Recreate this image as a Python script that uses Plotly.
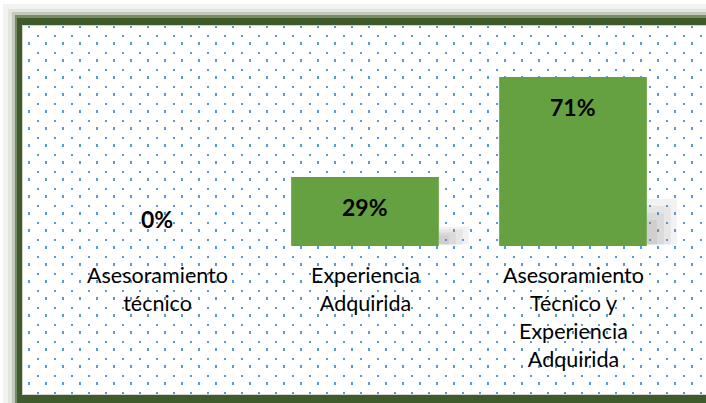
import base64
import plotly.graph_objects as go

# ---- data ----
categories = ["Asesoramiento técnico", "Experiencia Adquirida", "Asesoramiento Técnico y Experiencia Adquirida"]
tick_labels = ["Asesoramiento<br>técnico", "Experiencia<br>Adquirida", "Asesoramiento<br>Técnico y<br>Experiencia<br>Adquirida"]
values = [0, 29, 71]
value_labels = ["0%", "29%", "71%"]

W, H = 706, 403
FONT = "Lato"
BAR_W = 0.71
k = 2.38  # px per percent

def px(x):
    return x / W

def py(y):
    return 1 - y / H

fig = go.Figure()
fig.add_trace(go.Bar(
    x=categories, y=values,
    marker=dict(color="#66a141", line=dict(width=0)),
    width=BAR_W, hoverinfo="skip",
))

annotations = []
for cat, v, lab in zip(categories, values, value_labels):
    annotations.append(dict(
        x=cat, y=v, xref="x", yref="y", text="<b>%s</b>" % lab, showarrow=False,
        font=dict(family=FONT, size=23, color="#000000"),
        xanchor="center", yanchor="middle", yshift=(-30 if v > 0 else 27),
    ))
for cat, lab in zip(categories, tick_labels):
    annotations.append(dict(
        x=cat, y=0, xref="x", yref="y", text=lab, showarrow=False,
        font=dict(family=FONT, size=21.5, color="#000000"),
        xanchor="center", yanchor="top", yshift=-14, align="center",
    ))

# dotted background texture (decoration)
iw, ih = 684, 370
svg = (
    '<svg xmlns="http://www.w3.org/2000/svg" width="%d" height="%d" viewBox="0 0 %d %d">'
    '<defs><pattern id="p" x="4" y="4" width="17" height="17" patternUnits="userSpaceOnUse">'
    '<rect x="11.3" y="5.7" width="2" height="2.6" fill="#5b9bd5" shape-rendering="crispEdges"/>'
    '<rect x="2" y="13" width="2" height="2.6" fill="#5b9bd5" shape-rendering="crispEdges"/>'
    '</pattern></defs><rect width="100%%" height="100%%" fill="#ffffff"/>'
    '<rect width="100%%" height="100%%" fill="url(#p)"/></svg>'
) % (iw, ih, iw, ih)
src = "data:image/svg+xml;base64," + base64.b64encode(svg.encode()).decode()

images = [dict(source=src, xref="paper", yref="paper", x=px(22), y=py(25),
               sizex=iw / W, sizey=ih / H, xanchor="left", yanchor="top",
               sizing="stretch", layer="below")]

shapes = []
def hline(y, w, color, x0=0, x1=W + 10):
    shapes.append(dict(type="line", xref="paper", yref="paper", x0=px(x0), x1=px(x1),
                       y0=py(y), y1=py(y), line=dict(color=color, width=w)))
def vline(x, w, color, y0=0, y1=H + 10):
    shapes.append(dict(type="line", xref="paper", yref="paper", x0=px(x), x1=px(x),
                       y0=py(y0), y1=py(y1), line=dict(color=color, width=w)))

# outer glow bands (top & left)
bands = [  # (top y0, y1, left x0, x1, color)
    (4, 9, 3, 8, "#f2f3f0"),
    (9, 12, 8, 12, "#e3e6df"),
    (12, 15, 12, 15, "#c1c9b8"),
    (15, 18, 15, 17, "#778c67"),
]
for (ty0, ty1, lx0, lx1, c) in bands:
    hline((ty0 + ty1) / 2, ty1 - ty0, c, x0=lx0)
    vline((lx0 + lx1) / 2, lx1 - lx0, c, y0=ty0)
# dark frame
dark = "#3f5b2c"
hline(21.5, 7, dark, x0=17)
vline(19.5, 5, dark, y0=18)
hline(399, 8, dark, x0=17)
# inner faint line
hline(25.5, 1, "#cfd2cc", x0=22)
vline(22.5, 1, "#cfd2cc", y0=25, y1=395)
hline(394.5, 1, "#d5d5d5", x0=22)

# soft drop shadows to the right of the bars (decoration, tied to bar values)
for i, v in enumerate(values):
    if v <= 0:
        continue
    right = i + BAR_W / 2
    hgt = v * 0.28
    for j, (dx, top_f, op) in enumerate([(30, 1.0, 0.10), (24, 0.85, 0.10), (17, 0.7, 0.12), (10, 0.55, 0.12)]):
        shapes.append(dict(type="rect", xref="x", yref="y", layer="below",
                           x0=right, x1=right + dx / 208, y0=1.5 / k, y1=hgt * top_f,
                           fillcolor="#808080", opacity=op, line=dict(width=0)))

fig.update_layout(
    width=W, height=H,
    margin=dict(l=0, r=0, t=0, b=0, pad=0),
    paper_bgcolor="#ffffff", plot_bgcolor="rgba(0,0,0,0)",
    showlegend=False,
    xaxis=dict(type="category", range=[-157 / 208, (W - 157) / 208], visible=False,
               fixedrange=True),
    yaxis=dict(range=[-(H - 246) / k, 246 / k], visible=False, fixedrange=True),
    annotations=annotations, shapes=shapes, images=images,
)

fig.write_html(
    "out.html",
    config={"displayModeBar": False},
    post_script="document.body.style.margin='0';document.body.style.overflow='hidden';",
)
